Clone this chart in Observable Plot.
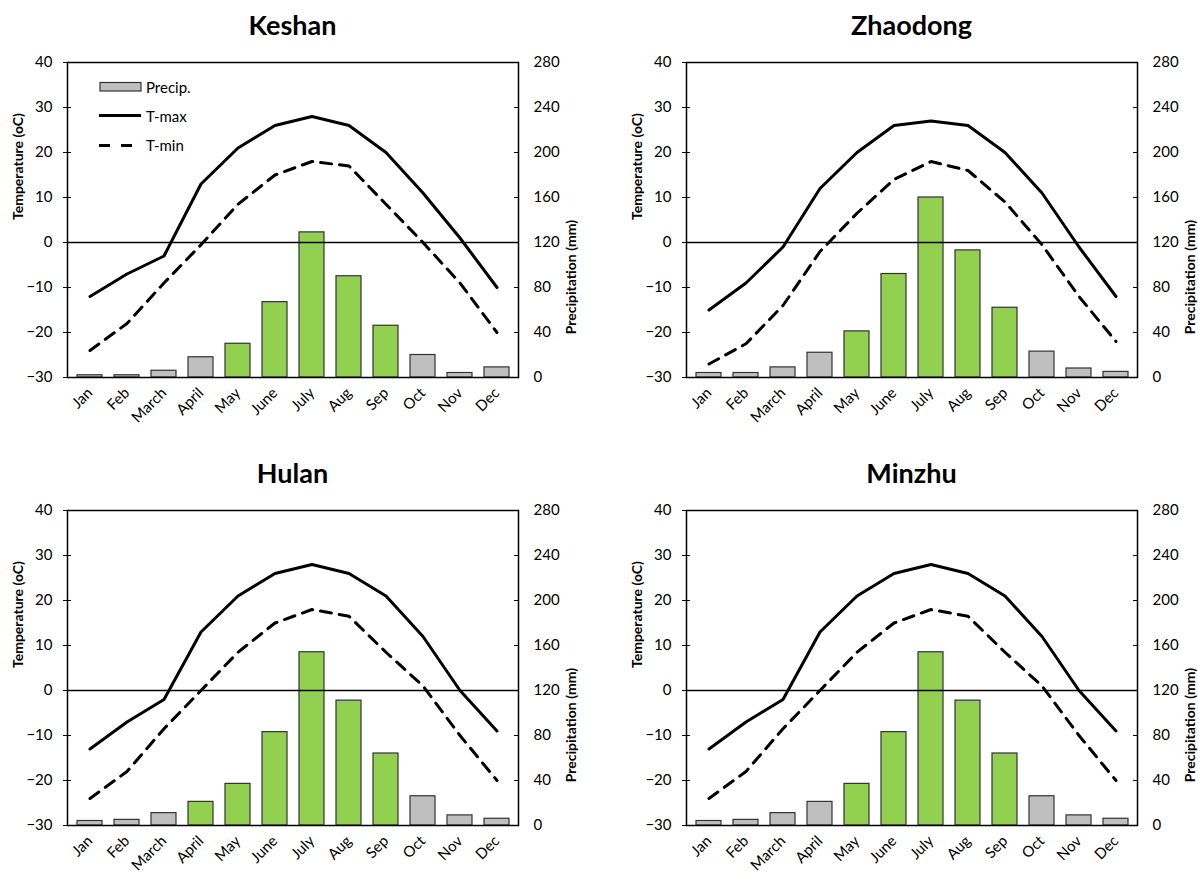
<!DOCTYPE html>
<html><head><meta charset="utf-8">
<script src="https://cdn.jsdelivr.net/npm/d3@7"></script>
<script src="https://cdn.jsdelivr.net/npm/@observablehq/plot@0.6"></script>
<style>
body{margin:0;background:#fff;font-family:Lato,"DejaVu Sans",sans-serif;}
#root{position:relative;width:1198px;height:874px;overflow:hidden;background:#fff;}
.panel{position:absolute;}
.title{position:absolute;left:67px;width:451px;top:11px;text-align:center;font-weight:bold;font-size:27px;line-height:27px;font-family:Lato,sans-serif;color:#000;}
.plotbox{position:absolute;left:0;top:40px;}
.legend{position:absolute;left:0;top:0;pointer-events:none;}
</style></head><body><div id="root"></div>
<script>
// ---- data ----
const months = ["Jan","Feb","March","April","May","June","July","Aug","Sep","Oct","Nov","Dec"];
const tempTicks = [-30,-20,-10,0,10,20,30,40];

const precipKeshan = [2,2,6,18,30,67,129,90,46,20,4,9];
const tmaxKeshan   = [-12,-7,-3,13,21,26,28,26,20,11,1,-10];
const tminKeshan   = [-24,-18,-9,-0.5,8.5,15,18,17,8.5,0,-9,-20];
const growingKeshan = ["May","June","July","Aug","Sep"];

const precipZhaodong = [4,4,9,22,41,92,160,113,62,23,8,5];
const tmaxZhaodong   = [-15,-9,-1,12,20,26,27,26,20,11,-1,-12];
const tminZhaodong   = [-27,-22.5,-14,-2,6.5,14,18,16,9,-0.5,-12,-22];
const growingZhaodong = ["May","June","July","Aug","Sep"];

const precipHulan = [4,5,11,21,37,83,154,111,64,26,9,6];
const tmaxHulan   = [-13,-7,-2,13,21,26,28,26,21,12,0,-9];
const tminHulan   = [-24,-18,-8.5,0,8.5,15,18,16.5,8.5,1,-10,-20];
const growingHulan = ["April","May","June","July","Aug","Sep"];

const precipMinzhu = [4,5,11,21,37,83,154,111,64,26,9,6];
const tmaxMinzhu   = [-13,-7,-2,13,21,26,28,26,21,12,0,-9];
const tminMinzhu   = [-24,-18,-8.5,0,8.5,15,18,16.5,8.5,1,-10,-20];
const growingMinzhu = ["May","June","July","Aug","Sep"];

// precipitation (0..280 mm) shares the temperature scale (-30..40 °C)
const precipToTemp = p => p / 4 - 30;
const tempToPrecip = t => (t + 30) * 4;

const GREEN = "#92D050", GREY = "#BFBFBF", EDGE = "#333333";

function panel(name, precip, tmax, tmin, growing, ox, oy, width, withLegend) {
  const rows = months.map((m, i) => ({month: m, precip: precip[i], tmax: tmax[i], tmin: tmin[i], green: growing.includes(m)}));
  const div = document.createElement("div");
  div.className = "panel";
  div.style.left = ox + "px"; div.style.top = oy + "px";
  const t = document.createElement("div");
  t.className = "title"; t.textContent = name;
  div.appendChild(t);
  const noText = () => "";
  const chart = Plot.plot({
    width, height: 386,
    marginTop: 22, marginBottom: 49, marginLeft: 67, marginRight: width - 67 - 451,
    x: {domain: months, paddingInner: 0.33, paddingOuter: 0.165, axis: null, label: null},
    y: {domain: [-30, 40], axis: null, label: null},
    style: {fontFamily: "Lato, sans-serif", fontSize: "15px", color: "#000", background: "white", maxWidth: "none", overflow: "visible"},
    marks: [
      Plot.barY(rows, {x: "month", y1: -30, y2: d => precipToTemp(d.precip), fill: d => d.green ? GREEN : GREY, stroke: EDGE, strokeWidth: 1.2}),
      Plot.ruleY([0], {stroke: "#000", strokeWidth: 1.3}),
      Plot.line(rows, {x: "month", y: "tmax", stroke: "#000", strokeWidth: 3, strokeLinejoin: "round"}),
      Plot.line(rows, {x: "month", y: "tmin", stroke: "#000", strokeWidth: 3, strokeDasharray: "11,8", strokeLinejoin: "round"}),
      Plot.frame({stroke: "#000", strokeWidth: 1.5}),
      Plot.axisY(tempTicks, {anchor: "left", tickSize: 4, tickFormat: noText, label: null}),
      Plot.axisY(tempTicks, {anchor: "left", tickSize: -4, tickFormat: noText, label: null}),
      Plot.axisY(tempTicks, {anchor: "right", tickSize: -5, tickFormat: noText, label: null}),
      Plot.axisY(tempTicks, {anchor: "left", tickSize: 0, tickPadding: 15, fontSize: 15, label: null}),
      Plot.axisY(tempTicks, {anchor: "right", tickSize: 0, tickPadding: 15, fontSize: 15, label: null, tickFormat: tempToPrecip}),
      Plot.axisX({tickRotate: -45, tickSize: 0, tickPadding: 13, fontSize: 15, label: null}),
      Plot.text(["Temperature (oC)"], {text: d => d, frameAnchor: "left", dx: -49, rotate: -90, fontWeight: "bold", fontSize: 14}),
      Plot.text(["Precipitation (mm)"], {text: d => d, frameAnchor: "right", dx: 53, rotate: -90, fontWeight: "bold", fontSize: 14})
    ]
  });
  const box = document.createElement("div");
  box.className = "plotbox";
  box.appendChild(chart);
  div.appendChild(box);
  if (withLegend) {
    const ns = "http://www.w3.org/2000/svg";
    const svg = document.createElementNS(ns, "svg");
    svg.setAttribute("width", 300); svg.setAttribute("height", 170);
    svg.setAttribute("class", "legend");
    svg.innerHTML = `
      <rect x="100" y="82.5" width="41" height="8.5" fill="${GREY}" stroke="${EDGE}" stroke-width="1.2"/>
      <text x="146" y="86.7" dominant-baseline="central" font-family="Lato, sans-serif" font-size="15">Precip.</text>
      <line x1="99" x2="141" y1="115.5" y2="115.5" stroke="#000" stroke-width="3"/>
      <text x="146" y="115.5" dominant-baseline="central" font-family="Lato, sans-serif" font-size="15">T-max</text>
      <line x1="99" x2="141" y1="145.5" y2="145.5" stroke="#000" stroke-width="3" stroke-dasharray="11,11"/>
      <text x="146" y="145" dominant-baseline="central" font-family="Lato, sans-serif" font-size="15">T-min</text>`;
    div.appendChild(svg);
  }
  document.getElementById("root").appendChild(div);
}

panel("Keshan", precipKeshan, tmaxKeshan, tminKeshan, growingKeshan, 0, 0, 599, true);
panel("Zhaodong", precipZhaodong, tmaxZhaodong, tminZhaodong, growingZhaodong, 619, 0, 579, false);
panel("Hulan", precipHulan, tmaxHulan, tminHulan, growingHulan, 0, 448, 599, false);
panel("Minzhu", precipMinzhu, tmaxMinzhu, tminMinzhu, growingMinzhu, 619, 448, 579, false);
</script></body></html>
